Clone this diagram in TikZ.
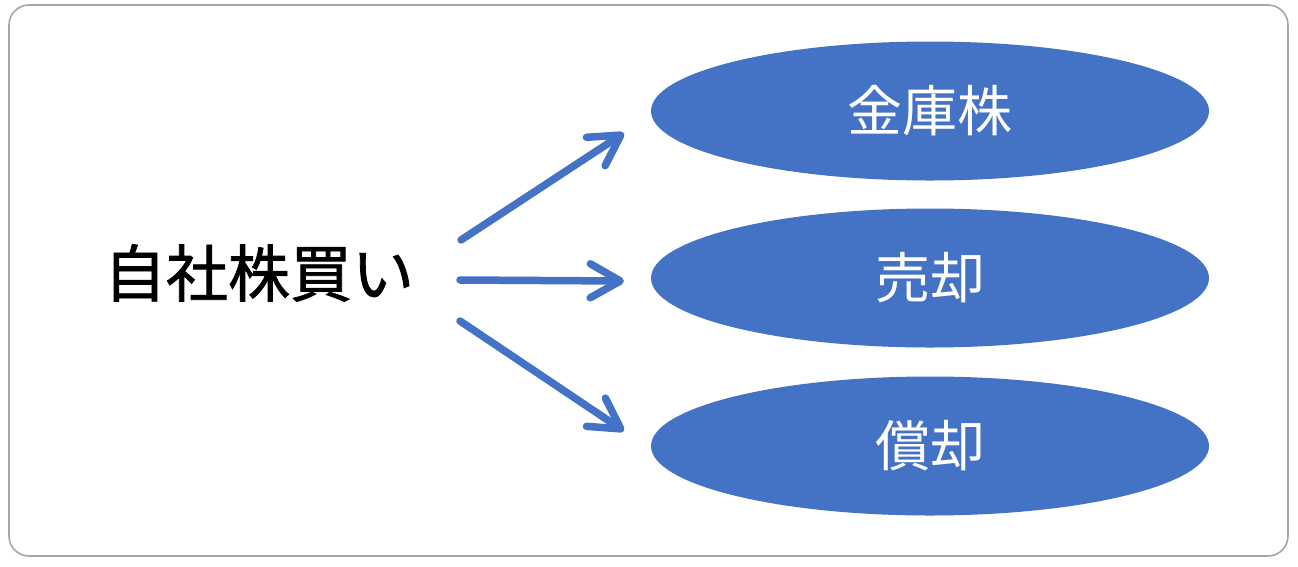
\documentclass[tikz,border=0pt]{standalone}
\usepackage{fontspec}
\newfontfamily\jpfont{Noto Sans CJK JP}
\newfontfamily\jpfontb[FakeBold=1.3]{Noto Sans CJK JP}
\usetikzlibrary{arrows.meta,shapes.geometric}
\definecolor{blueA}{HTML}{4472C4}
\definecolor{frameG}{HTML}{A6A6A6}
\tikzset{
  oval/.style={ellipse, fill=blueA, draw=none, minimum width=558pt, minimum height=139pt,
    inner sep=0pt, text=white, font=\jpfont\fontsize{55}{60}\selectfont},
  conn/.style={draw=blueA, line width=7.5pt, line cap=round,
    -{Straight Barb[length=30pt,width=34pt,round]}},
  srctext/.style={font=\jpfontb\fontsize{62}{66}\selectfont, text=black, inner sep=0pt}
}
\begin{document}
\begin{tikzpicture}[x=1pt,y=-1pt]
\useasboundingbox (0,0) rectangle (1298,566);
\draw[frameG, line width=1.6pt, rounded corners=20pt] (9,5) rectangle (1288,556);
\node[srctext] (src) at (259,273) {自社株買い};
\node[oval] (e1) at (930,111) {金庫株};
\node[oval] (e2) at (930,278) {売却};
\node[oval] (e3) at (930,446) {償却};
\coordinate (s1) at (461,240);
\coordinate (s2) at (460,280);
\coordinate (s3) at (460,321);
\coordinate (t1) at (624,133);
\coordinate (t2) at (624,281);
\coordinate (t3) at (624,431);
\draw[conn] (s1) -- (t1);
\draw[conn] (s2) -- (t2);
\draw[conn] (s3) -- (t3);
\end{tikzpicture}
\end{document}
